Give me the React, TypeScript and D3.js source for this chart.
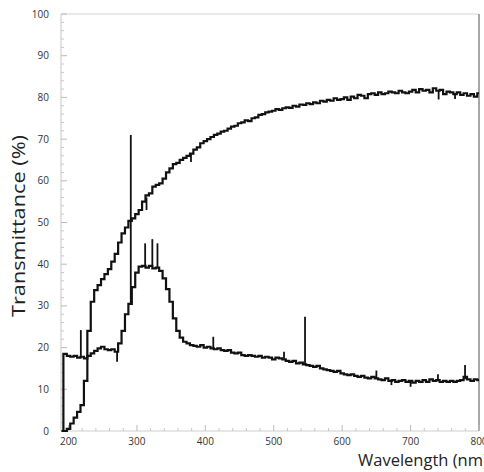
import React from "react";
import * as d3 from "d3";

// sampling grid (nm)
const wavelengths = d3.range(190, 801, 5);

// upper curve: rising transmittance
const seriesA = [
  0, 0, 0.5, 1.8, 3.2, 4.6, 6.2, 12, 24, 31, 33.8, 35, 36.4, 37.6, 38.8, 40.6, 42.5, 45.2, 47.4, 48.8,
  50.4, 51, 52, 53, 55, 56.5, 57, 58.6, 59, 59.4, 60.5, 62, 63, 64, 64.3, 65, 65.5, 66, 66.5, 67.5,
  68, 69, 69.5, 70, 70.5, 71, 71.3, 71.8, 72, 72.5, 73, 73.2, 73.8, 74, 74.5, 74.3, 75, 75.2, 75.8, 76,
  76.4, 76.6, 76.8, 77.2, 77, 77.4, 77.6, 77.5, 78, 77.8, 78.3, 78.2, 78.6, 78.4, 78.8, 78.6, 79.2, 79, 79.4, 79.2,
  79.8, 79.4, 79.6, 80, 79.4, 80.2, 79.8, 80.6, 80.4, 79.8, 80.8, 81, 80.6, 81.2, 80.8, 81, 81.4, 81.2, 81, 81.6,
  81.2, 81, 81.4, 81.8, 81.2, 82, 81.6, 81.8, 81.2, 82.2, 81.6, 81.8, 80.8, 81.4, 81.2, 80.8, 81.2, 80.6, 81, 80.4,
  80.8, 80.2, 81,
];

// lower curve: band around 320 nm
const seriesB = [
  0, 18.5, 18, 17.8, 18, 17.6, 17.8, 17.4, 18, 18.6, 19.2, 19.8, 20.2, 19.6, 19.4, 19.6, 19, 21, 24, 28,
  30.5, 34.5, 38, 39.4, 39.6, 39.2, 39.6, 39, 39.2, 38.4, 36.6, 34, 31, 27, 24, 22.4, 21.4, 21, 20.6, 20.4,
  20.2, 20.6, 20, 20.2, 19.8, 19.6, 19.8, 19.4, 19.2, 19.4, 18.8, 18.6, 18.8, 18.2, 18, 18.2, 18, 17.8, 18, 17.6,
  17.8, 17.6, 17.2, 17.6, 17.4, 17.2, 16.8, 16.6, 16.8, 16.2, 16.4, 16, 15.8, 15.6, 15.4, 15.6, 15, 14.8, 14.6, 14.4,
  14.2, 14.4, 13.8, 13.6, 13.4, 13.6, 13.2, 13, 13.2, 12.8, 12.6, 13, 12.6, 12.4, 12.2, 12.6, 12, 12.2, 11.8, 12,
  12.2, 11.8, 12, 11.6, 12, 11.8, 12.2, 11.8, 12.4, 12, 12.2, 11.8, 12, 11.8, 12, 11.8, 12, 12.2, 13, 12.4,
  12, 12.4, 12.2,
];

// narrow spikes / dips: [wavelength, from, to]
const spikesA = [
  [314, 56, 53], [379, 66.5, 64.5], [741, 81.6, 79.5], [765, 81, 79.6],
];
const spikesB = [
  [218, 18, 24.2], [271, 19, 16.6], [291, 30.5, 71], [312, 39.4, 45], [322.5, 39.4, 46], [330, 39, 45],
  [411.6, 19.8, 22.6], [515, 17.4, 19], [545.7, 16, 27.4], [650, 12.6, 14.5], [672, 12, 11],
  [700, 12, 10.6], [740, 12.2, 13.6], [779.6, 12.4, 15.8],
];

const xMajor = [200, 300, 400, 500, 600, 700, 800];
const yMajor = [0, 10, 20, 30, 40, 50, 60, 70, 80, 90, 100];

const W = 484, H = 472;
const left = 61, right = 479, top = 14, bottom = 431;

export default function App() {
  const x = d3.scaleLinear().domain([189, 800]).range([left, right]);
  const y = d3.scaleLinear().domain([0, 100]).range([bottom, top]);

  const line = d3.line<number>()
    .x((d, i) => x(wavelengths[i]))
    .y(d => y(d))
    .curve(d3.curveStep);

  const xMinor = d3.range(200, 800, 20).filter(v => v % 100 !== 0);
  const yMinor = d3.range(0, 100, 2).filter(v => v % 10 !== 0);
  const font = "'Open Sans', 'DejaVu Sans', sans-serif";

  return (
    <svg width={W} height={H} style={{ position: "absolute", left: 0, top: 0, background: "#fff" }}>
      {/* frame */}
      <line x1={left} x2={right} y1={top} y2={top} stroke="#d4d4d4" strokeWidth={1.2} />
      <line x1={left} x2={left} y1={top} y2={bottom} stroke="#cfcfcf" strokeWidth={1.2} />
      <line x1={left} x2={right} y1={bottom} y2={bottom} stroke="#cfcfcf" strokeWidth={1.2} />
      <line x1={right} x2={right} y1={top} y2={bottom} stroke="#8a8a8a" strokeWidth={1.5} />

      {/* ticks */}
      {yMajor.map(v => (
        <g key={"ym" + v}>
          <line x1={left} x2={left + 6} y1={y(v)} y2={y(v)} stroke="#bbb" />
          <text x={49} y={y(v)} dy="0.35em" textAnchor="end" fontSize={10} fill="#333" fontFamily={font}>{v}</text>
        </g>
      ))}
      {yMinor.map(v => (
        <line key={"yn" + v} x1={left} x2={left + 3} y1={y(v)} y2={y(v)} stroke="#c8c8c8" />
      ))}
      {xMajor.map(v => (
        <g key={"xm" + v}>
          <line x1={x(v)} x2={x(v)} y1={bottom} y2={bottom - 6} stroke="#bbb" />
          <text x={x(v)} y={445} textAnchor="middle" fontSize={10} fill="#333" fontFamily={font}>{v}</text>
        </g>
      ))}
      {xMinor.map(v => (
        <line key={"xn" + v} x1={x(v)} x2={x(v)} y1={bottom} y2={bottom - 3} stroke="#c8c8c8" />
      ))}

      {/* data */}
      <path d={line(seriesA) || ""} fill="none" stroke="#111" strokeWidth={2.2} />
      <path d={line(seriesB) || ""} fill="none" stroke="#111" strokeWidth={2.2} />
      {[...spikesA, ...spikesB].map((s, i) => (
        <line key={"sp" + i} x1={x(s[0])} x2={x(s[0])} y1={y(s[1])} y2={y(s[2])} stroke="#111" strokeWidth={1.8} />
      ))}

      {/* axis titles */}
      <text x={358} y={466} fontSize={16.5} fill="#222" fontFamily={font}>Wavelength (nm)</text>
      <text transform={`translate(25, 226) rotate(-90)`} textAnchor="middle" fontSize={18.5} textLength={182}
        lengthAdjust="spacingAndGlyphs" fill="#222" fontFamily={font}>Transmittance (%)</text>
    </svg>
  );
}
